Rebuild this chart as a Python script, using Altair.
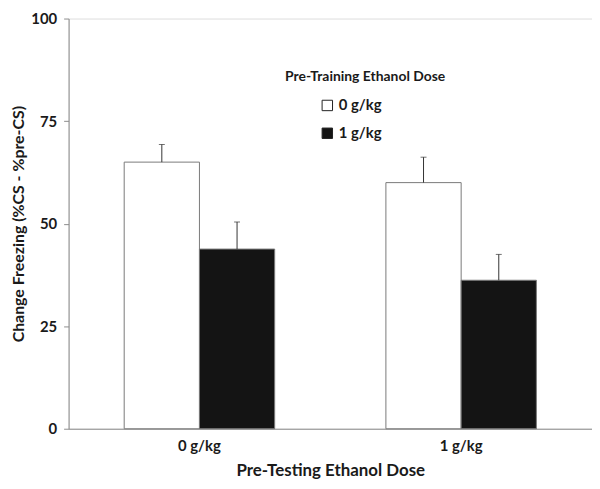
import altair as alt
import pandas as pd

testing_dose = ["0 g/kg", "0 g/kg", "1 g/kg", "1 g/kg"]
training_dose = ["0 g/kg", "1 g/kg", "0 g/kg", "1 g/kg"]
freezing = [65.0, 43.8, 60.0, 36.2]
error_top = [69.3, 50.4, 66.2, 42.5]

df = pd.DataFrame({
    "testing": testing_dose,
    "training": training_dose,
    "value": freezing,
    "upper": error_top,
})

FONT = "Lato"
TXT = "#1a1a1a"

x_enc = alt.X("testing:N", title="Pre-Testing Ethanol Dose",
              scale=alt.Scale(paddingInner=0.425, paddingOuter=0.2125),
              axis=alt.Axis(labelAngle=0, ticks=False, domainColor="#8c8c8c",
                            labelFontSize=15, labelFontWeight="bold", labelPadding=10,
                            titleFontSize=17, titleFontWeight="bold", titlePadding=9,
                            labelColor=TXT, titleColor=TXT))
xo = alt.XOffset("training:N", scale=alt.Scale(paddingInner=0, paddingOuter=0))

bars = alt.Chart(df).mark_bar(stroke="#7a7a7a", strokeWidth=1).encode(
    x=x_enc,
    xOffset=xo,
    y=alt.Y("value:Q", title="Change Freezing (%CS - %pre-CS)",
            scale=alt.Scale(domain=[0, 100], nice=False),
            axis=alt.Axis(values=[0, 25, 50, 75, 100], grid=False, domainColor="#8c8c8c",
                          tickColor="#8c8c8c", tickSize=5, labelPadding=7,
                          labelFontSize=15, labelFontWeight="bold",
                          titleFontSize=16, titleFontWeight="bold", titlePadding=4,
                          labelColor=TXT, titleColor=TXT)),
    fill=alt.Fill("training:N", title="Pre-Training Ethanol Dose",
                  scale=alt.Scale(domain=["0 g/kg", "1 g/kg"], range=["#ffffff", "#141414"]),
                  legend=alt.Legend(orient="none", legendX=218, legendY=52,
                                    symbolType="square", symbolSize=110,
                                    symbolStrokeColor="#222222", symbolStrokeWidth=1,
                                    symbolOffset=35, titleFontSize=14, titleFontWeight="bold",
                                    labelFontSize=15, labelFontWeight="bold",
                                    titlePadding=14, rowPadding=12, labelOffset=4,
                                    titleColor=TXT, labelColor=TXT)),
)

rules = alt.Chart(df).mark_rule(color="#333333", strokeWidth=1).encode(
    x=alt.X("testing:N"), xOffset=xo, y="value:Q", y2="upper:Q"
)
caps = alt.Chart(df).mark_tick(color="#333333", thickness=1, size=6).encode(
    x=alt.X("testing:N"), xOffset=xo, y="upper:Q"
)

chart = alt.layer(bars, rules, caps).properties(
    width=527, height=413,
    padding={"left": 2, "top": 2, "right": 0, "bottom": 0}
).configure_view(strokeWidth=0).configure(font=FONT, background="white")

chart.save("out.html", embed_options={"renderer": "svg", "actions": False})
